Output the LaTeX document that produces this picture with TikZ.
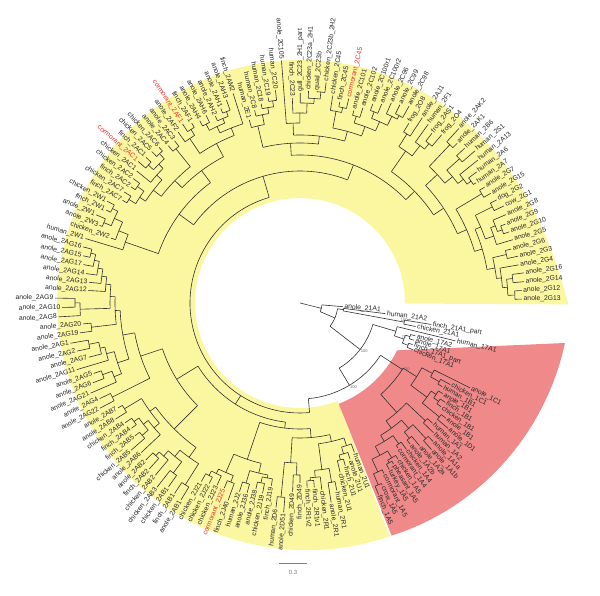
\documentclass[tikz,border=0pt]{standalone}
\usepackage{fontspec}
\setmainfont{Liberation Sans}
\definecolor{hly}{HTML}{FBF7A1}
\definecolor{hlr}{HTML}{F08A8A}
\definecolor{lbl}{HTML}{262626}
\definecolor{lred}{HTML}{E8302A}
\definecolor{brc}{HTML}{303030}
\definecolor{bsc}{HTML}{5A6E7E}
\tikzset{
  leaf/.style={inner sep=0pt,font=\fontsize{6.8bp}{7bp}\selectfont},
  bsv/.style={inner sep=0pt,font=\fontsize{4bp}{4bp}\selectfont,text=bsc},
  br/.style={draw=brc,line width=0.6bp},
  sbar/.style={draw=gray,line width=0.8bp}
}
\newcommand\lf[4]{%
  \pgfmathsetmacro\tmpa{#1<=131 ? 1+(#1-1)*2.223 : (#1<=153 ? 292.3+(#1-132)*1.96 : 337.5+(#1-154)*2.2)}%
  \expandafter\xdef\csname A@l#1\endcsname{\tmpa}%
  \expandafter\xdef\csname R@l#1\endcsname{#2}%
  \coordinate (l#1) at (\tmpa:#2);%
  \pgfmathsetmacro\tmpr{#2+1.5}%
  \ifdim\tmpa pt>90pt\relax
    \ifdim\tmpa pt<270pt\relax
      \pgfmathsetmacro\tmprot{\tmpa-180}\def\tmpanc{east}%
    \else
      \let\tmprot\tmpa\def\tmpanc{west}%
    \fi
  \else
    \let\tmprot\tmpa\def\tmpanc{west}%
  \fi
  \node[leaf,text=#4,anchor=\tmpanc,rotate=\tmprot] (L#1) at (\tmpa:\tmpr) {#3};%
}
\newcommand\nd[4][]{%
  \gdef\nfirst{}%
  \foreach \chld in {#4}{%
    \ifx\nfirst\empty\xdef\nfirst{\chld}\fi
    \xdef\nlast{\chld}%
    \edef\chA{\csname A@\chld\endcsname}%
    \edef\chR{\csname R@\chld\endcsname}%
    \draw[br] (\chA:\chR) -- (\chA:#3);
  }%
  \edef\aa{\csname A@\nfirst\endcsname}%
  \edef\ab{\csname A@\nlast\endcsname}%
  \def\tmpopt{#1}%
  \ifx\tmpopt\empty\pgfmathsetmacro\am{(\aa+\ab)/2}\else\def\am{#1}\fi
  \pgfmathsetmacro\amin{min(\aa,\am)}%
  \pgfmathsetmacro\amax{max(\ab,\am)}%
  \draw[br] (\amin:#3) arc[start angle=\amin, end angle=\amax, radius=#3];
  \expandafter\xdef\csname A@#2\endcsname{\am}%
  \expandafter\xdef\csname R@#2\endcsname{#3}%
  \coordinate (#2) at (\am:#3);%
}
\newcommand\bs[3][above]{\node[bsv,#1=0.5bp] (bs#2) at (#2) {#3};}
\begin{document}
\begin{tikzpicture}[x=1bp,y=1bp]
\useasboundingbox (0,0) rectangle (600,596);
\begin{scope}[shift={(300,293)}]
\coordinate (ctr) at (0,0);
% highlights
\fill[hly] (-0.3:105) arc[start angle=-0.3,end angle=291,radius=105]
  -- plot[domain=291:-0.3,samples=90,variable=\t] (\t:{243+25*exp(-\t/20)+7*((max(\t,200)-200)/91)^2}) -- cycle;
\fill[hlr] (291:108) arc[start angle=291,end angle=334,radius=108] -- (265,-40)
  -- plot[domain=-8.6:-68.5,samples=40,variable=\t] (\t:{250+18*(\t+68.5)/59.9}) -- cycle;
% leaves
\lf{1}{222}{anole\_2G13}{lbl}
\lf{2}{222}{anole\_2G12}{lbl}
\lf{3}{225}{anole\_2G14}{lbl}
\lf{4}{226}{anole\_2G16}{lbl}
\lf{5}{222}{anole\_2G4}{lbl}
\lf{6}{223}{anole\_2G3}{lbl}
\lf{7}{218}{anole\_2G6}{lbl}
\lf{8}{222}{anole\_2G5}{lbl}
\lf{9}{221}{anole\_2G10}{lbl}
\lf{10}{220}{anole\_2G9}{lbl}
\lf{11}{224}{anole\_2G8}{lbl}
\lf{12}{226}{cow\_2G1}{lbl}
\lf{13}{222}{dog\_2G2}{lbl}
\lf{14}{220}{anole\_2G15}{lbl}
\lf{15}{218}{anole\_2G7}{lbl}
\lf{16}{213}{human\_2A7}{lbl}
\lf{17}{220}{human\_2A6}{lbl}
\lf{18}{228}{human\_2A13}{lbl}
\lf{19}{232}{human\_2S1}{lbl}
\lf{20}{226}{human\_2B6}{lbl}
\lf{21}{224}{anole\_2AK1}{lbl}
\lf{22}{236}{anole\_2AK2}{lbl}
\lf{23}{220}{frog\_2O4}{lbl}
\lf{24}{215}{frog\_2AS1}{lbl}
\lf{25}{220}{human\_2F1}{lbl}
\lf{26}{222}{anole\_2AJ1}{lbl}
\lf{27}{210}{frog\_2O8}{lbl}
\lf{28}{225}{anole\_2C98}{lbl}
\lf{29}{222}{anole\_2C99}{lbl}
\lf{30}{220}{anole\_2C96}{lbl}
\lf{31}{215}{anole\_2C100r2}{lbl}
\lf{32}{212}{anole\_2C100r1}{lbl}
\lf{33}{205}{anole\_2C102}{lbl}
\lf{34}{200}{anole\_2C101}{lbl}
\lf{35}{210}{cormorant\_2C45}{lred}
\lf{36}{205}{finch\_2C45}{lbl}
\lf{37}{210}{chicken\_2C45}{lbl}
\lf{38}{222}{chicken\_2C23b\_2H2}{lbl}
\lf{39}{212}{quail\_2C23b}{lbl}
\lf{40}{212}{chicken\_2C23a\_2H1}{lbl}
\lf{41}{210}{gull\_2C23\_2H1\_part}{lbl}
\lf{42}{205}{finch\_2C23}{lbl}
\lf{43}{243}{anole\_2C105}{lbl}
\lf{44}{214}{human\_2C20}{lbl}
\lf{45}{208}{human\_2C19}{lbl}
\lf{46}{203}{human\_2C18}{lbl}
\lf{47}{198}{human\_2C8}{lbl}
\lf{48}{190}{human\_2E1}{lbl}
\lf{49}{220}{finch\_2AM2}{lbl}
\lf{50}{216}{anole\_2AH3}{lbl}
\lf{51}{210}{anole\_2AH1}{lbl}
\lf{52}{205}{anole\_2AH2}{lbl}
\lf{53}{210}{anole\_2AH6}{lbl}
\lf{54}{208}{anole\_2AH4}{lbl}
\lf{55}{210}{finch\_2AF1}{lbl}
\lf{56}{214}{cormorant\_2AF1}{lred}
\lf{57}{210}{anole\_2AF2}{lbl}
\lf{58}{205}{anole\_2AC3}{lbl}
\lf{59}{205}{anole\_2AC4}{lbl}
\lf{60}{210}{chicken\_2AC6}{lbl}
\lf{61}{212}{chicken\_2AC5}{lbl}
\lf{62}{212}{finch\_2AC1}{lbl}
\lf{63}{215}{cormorant\_2AC1}{lred}
\lf{64}{210}{chicken\_2AC1}{lbl}
\lf{65}{208}{chicken\_2AC2}{lbl}
\lf{66}{205}{finch\_2AC2}{lbl}
\lf{67}{208}{chicken\_2AC7}{lbl}
\lf{68}{205}{finch\_2AC7}{lbl}
\lf{69}{218}{chicken\_2W1}{lbl}
\lf{70}{215}{finch\_2W1}{lbl}
\lf{71}{222}{anole\_2W1}{lbl}
\lf{72}{215}{anole\_2W3}{lbl}
\lf{73}{200}{chicken\_2W2}{lbl}
\lf{74}{224}{human\_2W1}{lbl}
\lf{75}{224}{anole\_2AG16}{lbl}
\lf{76}{222}{anole\_2AG15}{lbl}
\lf{77}{220}{anole\_2AG17}{lbl}
\lf{78}{216}{anole\_2AG14}{lbl}
\lf{79}{212}{anole\_2AG13}{lbl}
\lf{80}{212}{anole\_2AG12}{lbl}
\lf{81}{245}{anole\_2AG9}{lbl}
\lf{82}{238}{anole\_2AG10}{lbl}
\lf{83}{242}{anole\_2AG8}{lbl}
\lf{84}{218}{anole\_2AG20}{lbl}
\lf{85}{222}{anole\_2AG19}{lbl}
\lf{86}{233}{anole\_2AG1}{lbl}
\lf{87}{228}{anole\_2AG2}{lbl}
\lf{88}{218}{anole\_2AG7}{lbl}
\lf{89}{233}{anole\_2AG11}{lbl}
\lf{90}{218}{anole\_2AG5}{lbl}
\lf{91}{222}{anole\_2AG6}{lbl}
\lf{92}{228}{anole\_2AG21}{lbl}
\lf{93}{222}{anole\_2AG4}{lbl}
\lf{94}{226}{anole\_2AG22}{lbl}
\lf{95}{210}{anole\_2AB7}{lbl}
\lf{96}{218}{anole\_2AB8}{lbl}
\lf{97}{212}{chicken\_2AB4}{lbl}
\lf{98}{210}{finch\_2AB4}{lbl}
\lf{99}{212}{finch\_2AB5}{lbl}
\lf{100}{224}{chicken\_2AB5}{lbl}
\lf{101}{218}{anole\_2AB6}{lbl}
\lf{102}{220}{anole\_2AB2}{lbl}
\lf{103}{224}{finch\_2AB2}{lbl}
\lf{104}{225}{chicken\_2AB2}{lbl}
\lf{105}{233}{chicken\_2AB3}{lbl}
\lf{106}{226}{chicken\_2AB1}{lbl}
\lf{107}{228}{finch\_2AB1}{lbl}
\lf{108}{230}{anole\_2AB1}{lbl}
\lf{109}{204}{chicken\_2J21}{lbl}
\lf{110}{202}{chicken\_2J22}{lbl}
\lf{111}{200}{chicken\_2J23}{lbl}
\lf{112}{200}{cormorant\_2J25}{lred}
\lf{113}{210}{finch\_2J40}{lbl}
\lf{114}{198}{human\_2J2}{lbl}
\lf{115}{197}{anole\_2J36}{lbl}
\lf{116}{191}{anole\_2J38}{lbl}
\lf{117}{194}{chicken\_2J19}{lbl}
\lf{118}{185}{finch\_2J19}{lbl}
\lf{119}{206}{human\_2D6}{lbl}
\lf{120}{210}{anole\_2D51}{lbl}
\lf{121}{189}{chicken\_2D49}{lbl}
\lf{122}{180}{finch\_2D49}{lbl}
\lf{123}{185}{finch\_2R1v2}{lbl}
\lf{124}{185}{finch\_2R1v1}{lbl}
\lf{125}{188}{chicken\_2R1}{lbl}
\lf{126}{202}{anole\_2R1}{lbl}
\lf{127}{191}{human\_2R1}{lbl}
\lf{128}{174}{chicken\_2U1}{lbl}
\lf{129}{169}{finch\_2U1}{lbl}
\lf{130}{164}{anole\_2U1}{lbl}
\lf{131}{159}{human\_2U1}{lbl}
\lf{132}{207}{finch\_1A5}{lbl}
\lf{133}{200}{crow\_1A5}{lbl}
\lf{134}{190}{cormorant\_1A5}{lbl}
\lf{135}{189}{turkey\_1A5}{lbl}
\lf{136}{186}{pheasant\_1A5}{lbl}
\lf{137}{184}{chicken\_1A5}{lbl}
\lf{138}{175}{cormorant\_1A4}{lbl}
\lf{139}{181}{chicken\_1A4}{lbl}
\lf{140}{179}{anole\_1A2b}{lbl}
\lf{141}{186}{anole\_1A2a}{lbl}
\lf{142}{197}{anole\_1A1b}{lbl}
\lf{143}{192}{anole\_1A1a}{lbl}
\lf{144}{186}{human\_1A2}{lbl}
\lf{145}{179}{human\_1A1}{lbl}
\lf{146}{194}{anole\_1D1}{lbl}
\lf{147}{186}{anole\_1B1}{lbl}
\lf{148}{175}{chicken\_1B1}{lbl}
\lf{149}{176}{finch\_1B1}{lbl}
\lf{150}{169}{anole\_1B1}{lbl}
\lf{151}{165}{human\_1B1}{lbl}
\lf{152}{171}{chicken\_1C1}{lbl}
\lf{153}{190}{anole\_1C1}{lbl}
\lf{154}{122}{chicken\_17A1}{lbl}
\lf{155}{120}{finch\_17A1\_part}{lbl}
\lf{156}{120}{anole\_17A1}{lbl}
\lf{157}{120}{anole\_17A2}{lbl}
\lf{158}{160}{human\_17A1}{lbl}
\lf{159}{118}{chicken\_21A1}{lbl}
\lf{160}{133}{finch\_21A1\_part}{lbl}
\lf{161}{86}{human\_21A2}{lbl}
\lf{162}{43}{anole\_21A1}{lbl}
% internal nodes: right G clade
\nd{g1}{215}{l1,l2}
\nd{g2}{214}{l3,l4}
\nd{g3}{208}{g1,g2}
\nd{g4}{203}{g3,l5}
\nd{g5}{212}{l6,l7}
\nd{g6}{198}{g4,g5}
\nd{g7}{215}{l9,l10}
\nd{g8}{210}{g7,l11}
\nd{g9}{205}{l8,g8}
\nd{g10}{215}{l12,l13}
\nd{g11}{196}{g9,g10}
\nd{g12}{190}{g6,g11}
\nd{g13}{212}{l14,l15}
\nd{g14}{182}{g12,g13}
\nd{h1}{210}{l16,l17}
\nd{h2}{205}{h1,l18}
\nd{h3}{215}{l19,l20}
\nd{h4}{198}{h2,h3}
\nd{h5}{218}{l21,l22}
\nd{h6}{188}{h4,h5}
\nd{gh}{172}{g14,h6}
\nd{f1}{205}{l23,l24}
\nd{f2}{198}{f1,l25}
\nd{f3}{200}{l26,l27}
\nd{f4}{185}{f2,f3}
\nd{ghf}{160}{gh,f4}
\nd{c1}{212}{l28,l29}
\nd{c2}{208}{c1,l30}
\nd{c3}{205}{l31,l32}
\nd{c4}{198}{c2,c3}
\nd{c5}{195}{l33,l34}
\nd{c6}{188}{c4,c5}
\nd{k1}{200}{l35,l36}
\nd{k2}{195}{k1,l37}
\nd{k3}{178}{c6,k2}
\nd{m1}{212}{l38,l39}
\nd{m2}{205}{m1,l40}
\nd{m3}{200}{m2,l41}
\nd{m4}{190}{m3,l42}
\nd{m5}{180}{m4,l43}
\nd{m6}{168}{k3,m5}
\nd{p1}{204}{l44,l45}
\nd{p2}{198}{p1,l46}
\nd{p3}{192}{p2,l47}
\nd{p4}{182}{p3,l48}
\nd{m7}{160}{m6,p4}
\nd{top}{148}{ghf,m7}
\nd{q1}{205}{l50,l51}
\nd{q2}{200}{q1,l52}
\nd{q3}{202}{l53,l54}
\nd{q4}{195}{q2,q3}
\nd{q5}{188}{l49,q4}
\nd{s1}{205}{l55,l56}
\nd{s2}{198}{s1,l57}
\nd{s3}{180}{q5,s2}
\nd{t1}{198}{l58,l59}
\nd{t2}{205}{l60,l61}
\nd{t3}{205}{l62,l63}
\nd{t4}{198}{t2,t3}
\nd{t5}{192}{t4,l64}
\nd{t6}{200}{l65,l66}
\nd{t7}{200}{l67,l68}
\nd{t8}{192}{t6,t7}
\nd{t9}{185}{t5,t8}
\nd{t10}{175}{t1,t9}
\nd{u1}{165}{s3,t10}
\nd{w1}{210}{l69,l70}
\nd{w2}{212}{l71,l72}
\nd{w3}{204}{w1,w2}
\nd{w4}{195}{w3,l73}
\nd{w5}{185}{w4,l74}
\nd{u2}{150}{u1,w5}
\nd{topall}{132}{top,u2}
\nd{a1}{215}{l75,l76}
\nd{a2}{210}{a1,l77}
\nd{a3}{205}{a2,l78}
\nd{a4}{200}{a3,l79}
\nd{a5}{195}{a4,l80}
\nd{a6}{225}{l81,l82}
\nd{a7}{220}{a6,l83}
\nd{a8}{190}{a5,a7}
\nd{a9}{210}{l84,l85}
\nd{a10}{185}{a8,a9}
\nd{a11}{215}{l86,l87}
\nd{a12}{205}{a11,l88}
\nd{a13}{200}{a12,l89}
\nd{a14}{210}{l90,l91}
\nd{a15}{200}{a14,l92}
\nd{a16}{192}{a13,a15}
\nd{a17}{180}{a10,a16}
\nd{a18}{210}{l93,l94}
\nd{a19}{168}{a17,a18}
\nd{b1}{205}{l95,l96}
\nd{b2}{204}{l97,l98}
\nd{b3}{206}{l99,l100}
\nd{b4}{198}{b2,b3}
\nd{b5}{192}{b4,l101}
\nd{b6}{185}{b1,b5}
\nd{b7}{210}{l102,l103}
\nd{b8}{205}{b7,l104}
\nd{b9}{212}{l105,l106}
\nd{b10}{198}{b8,b9}
\nd{b11}{215}{l107,l108}
\nd{b12}{190}{b10,b11}
\nd{b13}{178}{b6,b12}
\nd{ab}{145}{a19,b13}
\nd{j1}{195}{l109,l110}
\nd{j2}{190}{j1,l111}
\nd{j3}{192}{l112,l113}
\nd{j4}{185}{j2,j3}
\nd{j5}{188}{l114,l115}
\nd{j6}{184}{l116,l117}
\nd{j7}{178}{j6,l118}
\nd{j8}{175}{j5,j7}
\nd{j9}{165}{j4,j8}
\nd{d1}{195}{l119,l120}
\nd{d2}{172}{l121,l122}
\nd{d3}{160}{d1,d2}
\nd{e1}{178}{l123,l124}
\nd{e2}{175}{e1,l125}
\nd{e3}{182}{l126,l127}
\nd{e4}{168}{e2,e3}
\nd{v1}{162}{l128,l129}
\nd{v2}{157}{v1,l130}
\nd{v3}{150}{v2,l131}
\nd{e5}{142}{e4,v3}
\nd{d4}{135}{d3,e5}
\nd{j10}{126}{j9,d4}
\nd{bot}{120}{ab,j10}
\nd[275]{Y}{110}{topall,bot}
% red clade
\nd{r1}{198}{l132,l133}
\nd{r2}{186}{r1,l134}
\nd{r3}{183}{l135,l136}
\nd{r4}{180}{r3,l137}
\nd{r5}{172}{r2,r4}
\nd{r6}{172}{l138,l139}
\nd{r7}{162}{r5,r6}
\nd{r8}{174}{l140,l141}
\nd{r9}{185}{l142,l143}
\nd{r10}{166}{r8,r9}
\nd{r11}{155}{r7,r10}
\nd{r12}{172}{l144,l145}
\nd{r13}{146}{r11,r12}
\nd{r14}{180}{l146,l147}
\nd{r15}{170}{l148,l149}
\nd{r16}{164}{r15,l150}
\nd{r17}{158}{r14,r16}
\nd{r18}{160}{l151,l152}
\nd{r19}{150}{r18,l153}
\nd{r20}{138}{r17,r19}
\nd[327]{RD}{122}{r13,r20}
% white clades
\nd{x1}{116}{l154,l155}
\nd{x2}{115}{l156,l157}
\nd{x3}{110}{x1,x2}
\nd{x4}{100}{x3,l158}
\nd{x5}{106}{l159,l160}
\nd{x6}{44}{x5,l161}
% backbone
\nd{N4}{96}{Y,RD}
\nd{N3}{76}{N4,x4}
\nd{N2}{38}{N3,x6}
\nd{N1}{22}{N2,l162}
\draw[br] (ctr) -- (N1);
\bs[below right]{N4}{100}
\bs[below right]{N3}{100}
\bs[right]{RD}{100}
\bs[above]{x5}{100}
\bs[above]{x3}{78}
\end{scope}
% scale bar
\coordinate (sbl) at (279,33);
\coordinate (sbr) at (307,33);
\draw[sbar] (sbl) -- (sbr);
\node[leaf,text=gray,font=\fontsize{6bp}{6bp}\selectfont] (sbt) at (293,24) {0.3};
\end{tikzpicture}
\end{document}
